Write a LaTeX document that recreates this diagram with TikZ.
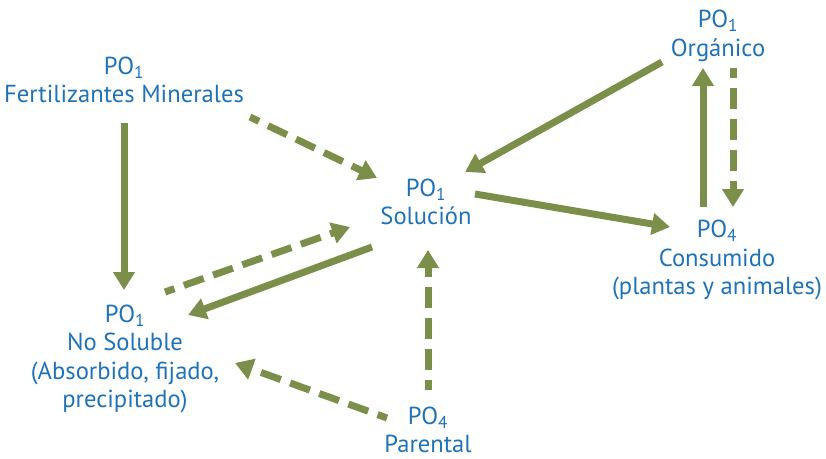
\documentclass[tikz,border=0pt]{standalone}
\usepackage{fontspec}
\setmainfont{PT Sans}
\usetikzlibrary{arrows.meta,calc}
\definecolor{arrowgreen}{RGB}{123,143,75}
\definecolor{textblue}{RGB}{30,115,184}
\begin{document}
\begin{tikzpicture}[x=1pt,y=-1pt,
  lbl/.style={text=textblue,align=center,inner sep=0pt,font=\fontsize{24.6}{28.4}\selectfont},
  flow/.style={draw=arrowgreen,line width=7pt,-{Triangle[length=18pt,width=21pt]},arrowgreen},
  flowdash/.style={flow,dash pattern=on 21pt off 10pt,dash phase=11pt}]
\useasboundingbox (0,0) rectangle (826,458);
\node[lbl] (fert) at (124,80) {PO\textsubscript{1}\\Fertilizantes Minerales};
\node[lbl] (sol) at (426,202) {PO\textsubscript{1}\\Solución};
\node[lbl] (org) at (718,36) {PO\textsubscript{1}\\Orgánico};
\node[lbl] (cons) at (717,260) {PO\textsubscript{4}\\Consumido\\(plantas y animales)};
\node[lbl] (nosol) at (125,359) {PO\textsubscript{1}\\No Soluble\\(Absorbido, fijado,\\precipitado)};
\node[lbl] (par) at (428,430) {PO\textsubscript{4}\\Parental};
\draw[flow] ($(fert)+(0,43)$) -- ($(nosol)+(-1,-69)$);
\draw[flowdash] ($(fert)+(126,37)$) -- ($(sol)+(-49,-24)$);
\draw[flowdash] ($(nosol)+(40,-67)$) -- ($(sol)+(-76,25)$);
\draw[flow] ($(sol)+(-54,45)$) -- ($(nosol)+(63,-44)$);
\draw[flowdash] ($(par)+(-41,-12)$) -- ($(nosol)+(110,4)$);
\draw[flowdash] ($(par)+(0,-40)$) -- ($(sol)+(2,48)$);
\draw[flow] ($(org)+(-56,26)$) -- ($(sol)+(39,-30)$);
\draw[flow] ($(sol)+(49,-8)$) -- ($(cons)+(-47,-33)$);
\draw[flow] ($(cons)+(-14,-53)$) -- ($(org)+(-15,32)$);
\draw[flowdash] ($(org)+(15,32)$) -- ($(cons)+(16,-53)$);
\end{tikzpicture}
\end{document}
